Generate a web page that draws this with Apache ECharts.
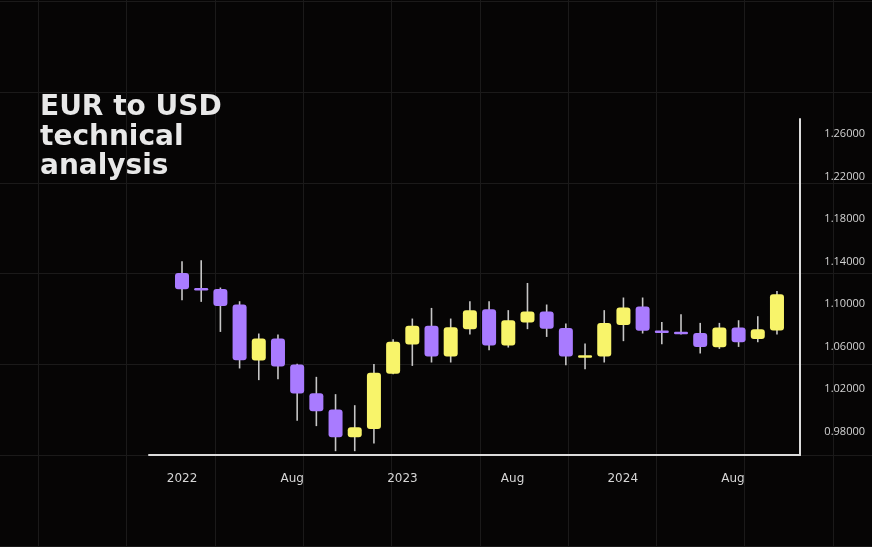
<!DOCTYPE html>
<html>
<head>
<meta charset="utf-8">
<script src="https://cdn.jsdelivr.net/npm/echarts@6/dist/echarts.min.js"></script>
<style>
  html, body { margin: 0; padding: 0; background: #060505; }
  #main { width: 872px; height: 547px; }
</style>
</head>
<body>
<div id="main"></div>
<script>
// monthly EUR/USD candles, Jan 2022 - Aug 2024
var months = ['2022-01','2022-02','2022-03','2022-04','2022-05','2022-06','2022-07','2022-08',
    '2022-09','2022-10','2022-11','2022-12','2023-01','2023-02','2023-03','2023-04','2023-05',
    '2023-06','2023-07','2023-08','2023-09','2023-10','2023-11','2023-12','2024-01','2024-02',
    '2024-03','2024-04','2024-05','2024-06','2024-07','2024-08'];
var opens  = [1.1295, 1.1151, 1.1144, 1.0997, 1.0470, 1.0677, 1.0433, 1.0162, 1.0009, 0.9748, 0.9824,
    1.0346, 1.0621, 1.0796, 1.0508, 1.0765, 1.0953, 1.0611, 1.0828, 1.0931, 1.0777, 1.0498, 1.0508,
    1.0805, 1.0978, 1.0753, 1.0739, 1.0730, 1.0595, 1.0781, 1.0673, 1.0753];
var closes = [1.1141, 1.1132, 1.0984, 1.0473, 1.0677, 1.0414, 1.0160, 0.9993, 0.9748, 0.9842, 1.0354,
    1.0647, 1.0796, 1.0508, 1.0784, 1.0944, 1.0611, 1.0849, 1.0931, 1.0768, 1.0508, 1.0517, 1.0824,
    1.0969, 1.0749, 1.0730, 1.0718, 1.0598, 1.0781, 1.0642, 1.0765, 1.1094];
var lows   = [1.1038, 1.1022, 1.0739, 1.0395, 1.0285, 1.0294, 0.9902, 0.9852, 0.9616, 0.9616, 0.9689,
    1.0341, 1.0419, 1.0451, 1.0451, 1.0715, 1.0567, 1.0592, 1.0765, 1.0692, 1.0426, 1.0388, 1.0451,
    1.0652, 1.0724, 1.0624, 1.0715, 1.0536, 1.0579, 1.0598, 1.0642, 1.0715];
var highs  = [1.1405, 1.1414, 1.1157, 1.1028, 1.0724, 1.0715, 1.0440, 1.0316, 1.0153, 1.0049, 1.0438,
    1.0671, 1.0865, 1.0965, 1.0865, 1.1028, 1.1028, 1.0944, 1.1200, 1.0997, 1.0818, 1.0630, 1.0944,
    1.1063, 1.1063, 1.0833, 1.0906, 1.0824, 1.0824, 1.0849, 1.0887, 1.1125];
var xTickLabels = ['2022', 'Aug', '2023', 'Aug', '2024', 'Aug'];
var yTickValues = [0.98, 1.02, 1.06, 1.10, 1.14, 1.18, 1.22, 1.26];

var upColor = '#f8f46a';
var downColor = '#a97bff';

var chart = echarts.init(document.getElementById('main'));

var candleData = months.map(function (m, i) {
    return [i, opens[i], closes[i], lows[i], highs[i]];
});

function renderCandle(params, api) {
    var x = api.value(0);
    var o = api.value(1), c = api.value(2), l = api.value(3), h = api.value(4);
    var pO = api.coord([x, o]);
    var pC = api.coord([x, c]);
    var pL = api.coord([x, l]);
    var pH = api.coord([x, h]);
    var w = api.size([1, 0])[0] * 0.73;
    var top = Math.min(pO[1], pC[1]);
    var bot = Math.max(pO[1], pC[1]);
    if (bot - top < 2.5) {
        var mid = (top + bot) / 2;
        top = mid - 1.25;
        bot = mid + 1.25;
    }
    return {
        type: 'group',
        children: [{
            type: 'line',
            shape: { x1: pH[0], y1: pH[1], x2: pL[0], y2: pL[1] },
            style: { stroke: '#c6c6c6', lineWidth: 1.6 }
        }, {
            type: 'rect',
            shape: { x: pO[0] - w / 2, y: top, width: w, height: bot - top, r: 3 },
            style: { fill: c >= o ? upColor : downColor }
        }]
    };
}

// faint background grid
var bg = [];
for (var i = 0; i < 10; i++) {
    var gx = Math.round(38 + i * 88.3) + 0.5;
    bg.push({ type: 'line', silent: true, z: -10,
        shape: { x1: gx, y1: 0, x2: gx, y2: 547 }, style: { stroke: '#1b1a1a', lineWidth: 1 } });
}
for (var j = 0; j < 7; j++) {
    var gy = Math.round(1 + j * 90.8) + 0.5;
    bg.push({ type: 'line', silent: true, z: -10,
        shape: { x1: 0, y1: gy, x2: 872, y2: gy }, style: { stroke: '#1b1a1a', lineWidth: 1 } });
}

chart.setOption({
    backgroundColor: '#060505',
    animation: false,
    title: {
        text: 'EUR to USD\ntechnical\nanalysis',
        left: 40,
        top: 93,
        padding: 0,
        textStyle: {
            color: '#e8e8e8',
            fontFamily: 'DejaVu Sans',
            fontWeight: 'bold',
            fontSize: 28,
            lineHeight: 29.5
        }
    },
    graphic: bg,
    grid: [
        { left: 149, right: 72, top: 119, bottom: 92 },
        { left: 127, right: 84, top: 119, bottom: 92 }
    ],
    xAxis: [{
        type: 'value',
        gridIndex: 0,
        min: -1.72,
        max: 32.2,
        axisLine: { show: true, onZero: false, lineStyle: { color: '#dcdcdc', width: 2 } },
        axisTick: { show: false },
        axisLabel: { show: false },
        splitLine: { show: false }
    }, {
        type: 'category',
        gridIndex: 1,
        data: xTickLabels,
        boundaryGap: true,
        axisLine: { show: false },
        axisTick: { show: false },
        axisLabel: {
            color: '#d6d6d6',
            fontFamily: 'DejaVu Sans',
            fontSize: 12,
            margin: 18,
            interval: 0
        },
        splitLine: { show: false }
    }],
    yAxis: [{
        type: 'value',
        gridIndex: 0,
        position: 'right',
        min: 0.958,
        max: 1.2744,
        axisLine: { show: true, onZero: false, lineStyle: { color: '#dcdcdc', width: 2 } },
        axisTick: { show: false },
        splitLine: { show: false },
        axisLabel: {
            customValues: yTickValues,
            color: '#d4d4d4',
            fontFamily: 'Open Sans',
            fontWeight: 500,
            fontSize: 11,
            align: 'right',
            margin: 65,
            formatter: function (v) { return v.toFixed(5); }
        }
    }, {
        type: 'value',
        gridIndex: 1,
        show: false
    }],
    series: [{
        type: 'custom',
        name: 'EURUSD',
        xAxisIndex: 0,
        yAxisIndex: 0,
        renderItem: renderCandle,
        encode: { x: 0, y: [1, 2, 3, 4] },
        data: candleData
    }]
});

window.addEventListener('resize', function () {
    chart.resize();
});
</script>
</body>
</html>
